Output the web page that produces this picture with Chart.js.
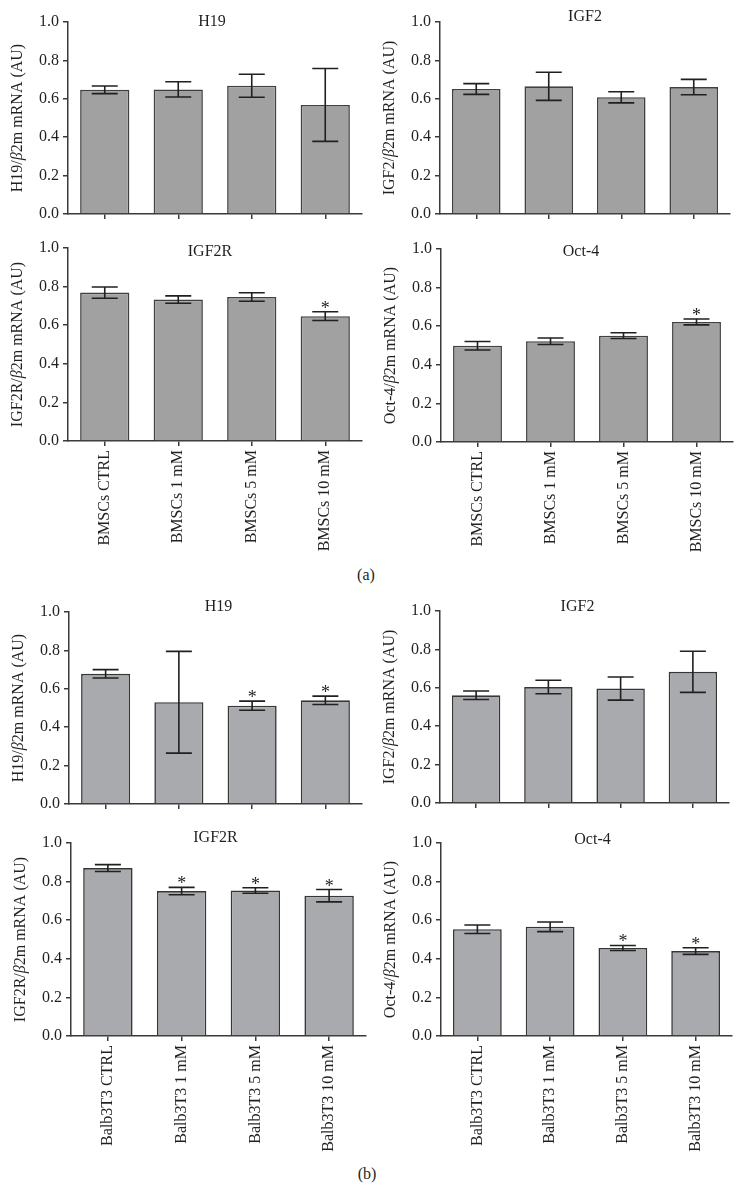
<!DOCTYPE html>
<html>
<head>
<meta charset="utf-8">
<script src="https://cdn.jsdelivr.net/npm/chart.js@4/dist/chart.umd.min.js"></script>
<style>
  body { margin: 0; background: #fff; }
  #page { position: relative; width: 744px; height: 1193px; background: #fff; font-family: "Liberation Serif", serif; overflow: hidden; }
  #page canvas { position: absolute; }
  .tag { position: absolute; font-size: 16px; color: #231f20; transform: translate(-50%, -50%); }
</style>
</head>
<body>
<div id="page">
  <div class="tag" style="left:366px;top:575px">(a)</div>
  <div class="tag" style="left:367px;top:1174px">(b)</div>
</div>
<script>
// ---------- data ----------
const bmscLabels = ['BMSCs CTRL', 'BMSCs 1 mM', 'BMSCs 5 mM', 'BMSCs 10 mM'];
const balbLabels = ['Balb3T3 CTRL', 'Balb3T3 1 mM', 'Balb3T3 5 mM', 'Balb3T3 10 mM'];
const yTicks = [0, 0.2, 0.4, 0.6, 0.8, 1.0];

// (a) BMSCs
const bmscH19 = [0.647, 0.649, 0.668, 0.568];
const bmscH19Err = [0.020, 0.040, 0.060, 0.190];
const bmscH19Sig = [0, 0, 0, 0];

const bmscIGF2 = [0.651, 0.665, 0.608, 0.661];
const bmscIGF2Err = [0.028, 0.073, 0.029, 0.040];
const bmscIGF2Sig = [0, 0, 0, 0];

const bmscIGF2R = [0.769, 0.733, 0.746, 0.647];
const bmscIGF2RErr = [0.029, 0.019, 0.022, 0.023];
const bmscIGF2RSig = [0, 0, 0, 1];

const bmscOct4 = [0.499, 0.522, 0.551, 0.622];
const bmscOct4Err = [0.022, 0.017, 0.015, 0.015];
const bmscOct4Sig = [0, 0, 0, 1];

// (b) Balb3T3
const balbH19 = [0.678, 0.530, 0.512, 0.540];
const balbH19Err = [0.022, 0.265, 0.024, 0.022];
const balbH19Sig = [0, 0, 1, 1];

const balbIGF2 = [0.561, 0.604, 0.596, 0.683];
const balbIGF2Err = [0.022, 0.035, 0.060, 0.107];
const balbIGF2Sig = [0, 0, 0, 0];

const balbIGF2R = [0.870, 0.751, 0.754, 0.727];
const balbIGF2RErr = [0.018, 0.019, 0.014, 0.032];
const balbIGF2RSig = [0, 1, 1, 1];

const balbOct4 = [0.553, 0.566, 0.456, 0.440];
const balbOct4Err = [0.022, 0.025, 0.013, 0.017];
const balbOct4Sig = [0, 0, 1, 1];

// ---------- styling ----------
const FONT = '"Liberation Serif", "Times New Roman", serif';
const TEXT = '#231f20';
const AXIS = '#3a3a3a';
const styleA = { fill: '#a1a1a1', border: '#404040' };
const styleB = { fill: '#a8aaae', border: '#363636' };

// box = canvas [left, top, w, h]; area = plot [left, top, right, bottom] in page px
const panels = [
  { gene: 'H19',    labels: bmscLabels, values: bmscH19,   errors: bmscH19Err,   sig: bmscH19Sig,   st: styleA, showLabels: false, box: [0, 0, 372, 230],     area: [68, 22, 362, 214],    tOff: [-3, 0] },
  { gene: 'IGF2',   labels: bmscLabels, values: bmscIGF2,  errors: bmscIGF2Err,  sig: bmscIGF2Sig,  st: styleA, showLabels: false, box: [372, 0, 372, 230],   area: [440, 22, 730, 214],   tOff: [0, -5] },
  { gene: 'IGF2R',  labels: bmscLabels, values: bmscIGF2R, errors: bmscIGF2RErr, sig: bmscIGF2RSig, st: styleA, showLabels: true,  box: [0, 230, 372, 340],   area: [68, 248, 362, 441],   tOff: [-5, 4] },
  { gene: 'Oct-4',  labels: bmscLabels, values: bmscOct4,  errors: bmscOct4Err,  sig: bmscOct4Sig,  st: styleA, showLabels: true,  box: [372, 230, 372, 340], area: [441, 249, 733, 442],  tOff: [-6, 3] },
  { gene: 'H19',    labels: balbLabels, values: balbH19,   errors: balbH19Err,   sig: balbH19Sig,   st: styleB, showLabels: false, box: [0, 590, 372, 230],   area: [69, 612, 362, 804],   tOff: [3, -5] },
  { gene: 'IGF2',   labels: balbLabels, values: balbIGF2,  errors: balbIGF2Err,  sig: balbIGF2Sig,  st: styleB, showLabels: false, box: [372, 590, 372, 230], area: [440, 611, 729, 803],  tOff: [-7, -4] },
  { gene: 'IGF2R',  labels: balbLabels, values: balbIGF2R, errors: balbIGF2RErr, sig: balbIGF2RSig, st: styleB, showLabels: true,  box: [0, 820, 372, 350],   area: [71, 843, 366, 1036],  tOff: [-3, -5] },
  { gene: 'Oct-4',  labels: balbLabels, values: balbOct4,  errors: balbOct4Err,  sig: balbOct4Sig,  st: styleB, showLabels: true,  box: [372, 820, 372, 350], area: [441, 843, 732, 1036], tOff: [6, -3] }
];

// error bars, significance stars, panel title and y-axis title
const decor = {
  id: 'decor',
  afterDatasetsDraw(chart, args, o) {
    const { ctx, chartArea, scales: { x, y } } = chart;
    ctx.save();
    ctx.strokeStyle = '#202020';
    ctx.fillStyle = TEXT;
    ctx.lineWidth = 1.6;
    ctx.textAlign = 'center';
    o.values.forEach((v, i) => {
      const cx = x.getPixelForValue(i);
      const hi = y.getPixelForValue(v + o.errors[i]);
      const lo = y.getPixelForValue(v - o.errors[i]);
      ctx.beginPath();
      ctx.moveTo(cx, hi); ctx.lineTo(cx, lo);
      ctx.moveTo(cx - 13, hi); ctx.lineTo(cx + 13, hi);
      ctx.moveTo(cx - 13, lo); ctx.lineTo(cx + 13, lo);
      ctx.stroke();
      if (o.sig[i]) {
        ctx.font = '18px ' + FONT;
        ctx.textBaseline = 'alphabetic';
        ctx.fillText('*', cx, hi + 2);
      }
    });

    // panel title
    ctx.font = '16px ' + FONT;
    ctx.textBaseline = 'middle';
    ctx.fillText(o.title, (chartArea.left + chartArea.right) / 2 + o.tOff[0], chartArea.top + o.tOff[1]);

    // y title with italic beta
    const parts = [
      [o.title + '/', '16px ' + FONT],
      ['\u03B2', 'italic 16px ' + FONT],
      ['2m mRNA (AU)', '16px ' + FONT]
    ];
    let total = 0;
    parts.forEach(p => { ctx.font = p[1]; total += ctx.measureText(p[0]).width; });
    ctx.translate(chartArea.left - 50, (chartArea.top + chartArea.bottom) / 2);
    ctx.rotate(-Math.PI / 2);
    ctx.textAlign = 'left';
    let px = -total / 2;
    parts.forEach(p => {
      ctx.font = p[1];
      ctx.fillText(p[0], px, 0);
      px += ctx.measureText(p[0]).width;
    });
    ctx.restore();
  }
};

const page = document.getElementById('page');

panels.forEach(p => {
  const [bx, by, bw, bh] = p.box;
  const [L, T, R, B] = p.area;
  const cv = document.createElement('canvas');
  cv.width = bw;
  cv.height = bh;
  cv.style.left = bx + 'px';
  cv.style.top = by + 'px';
  page.appendChild(cv);

  new Chart(cv, {
    type: 'bar',
    data: {
      labels: p.labels,
      datasets: [{
        data: p.values,
        backgroundColor: p.st.fill,
        borderColor: p.st.border,
        borderWidth: 1.6,
        borderSkipped: 'start',
        barPercentage: 0.67,
        categoryPercentage: 1
      }]
    },
    options: {
      responsive: false,
      animation: false,
      devicePixelRatio: 1,
      layout: { padding: { left: 0, top: T - by, right: bx + bw - R, bottom: 0 } },
      plugins: {
        legend: { display: false },
        tooltip: { enabled: false },
        decor: { values: p.values, errors: p.errors, sig: p.sig, title: p.gene, tOff: p.tOff }
      },
      scales: {
        x: {
          offset: true,
          grid: { display: true, offset: false, drawOnChartArea: false, drawTicks: true, tickLength: 5, color: AXIS, lineWidth: 1.5 },
          border: { display: true, color: AXIS, width: 1.5 },
          ticks: { display: p.showLabels, autoSkip: false, minRotation: 90, maxRotation: 90, padding: 4, color: TEXT, font: { family: FONT, size: 16 } },
          afterFit: s => { s.height = by + bh - B; }
        },
        y: {
          min: yTicks[0],
          max: yTicks[yTicks.length - 1],
          afterBuildTicks: s => { s.ticks = yTicks.map(v => ({ value: v })); },
          grid: { display: true, drawOnChartArea: false, drawTicks: true, tickLength: 5, color: AXIS, lineWidth: 1.5 },
          border: { display: true, color: AXIS, width: 1.5 },
          ticks: { padding: 4, color: TEXT, font: { family: FONT, size: 16 }, callback: v => Number(v).toFixed(1) },
          afterFit: s => { s.width = L - bx; }
        }
      }
    },
    plugins: [decor]
  });
});
</script>
</body>
</html>
